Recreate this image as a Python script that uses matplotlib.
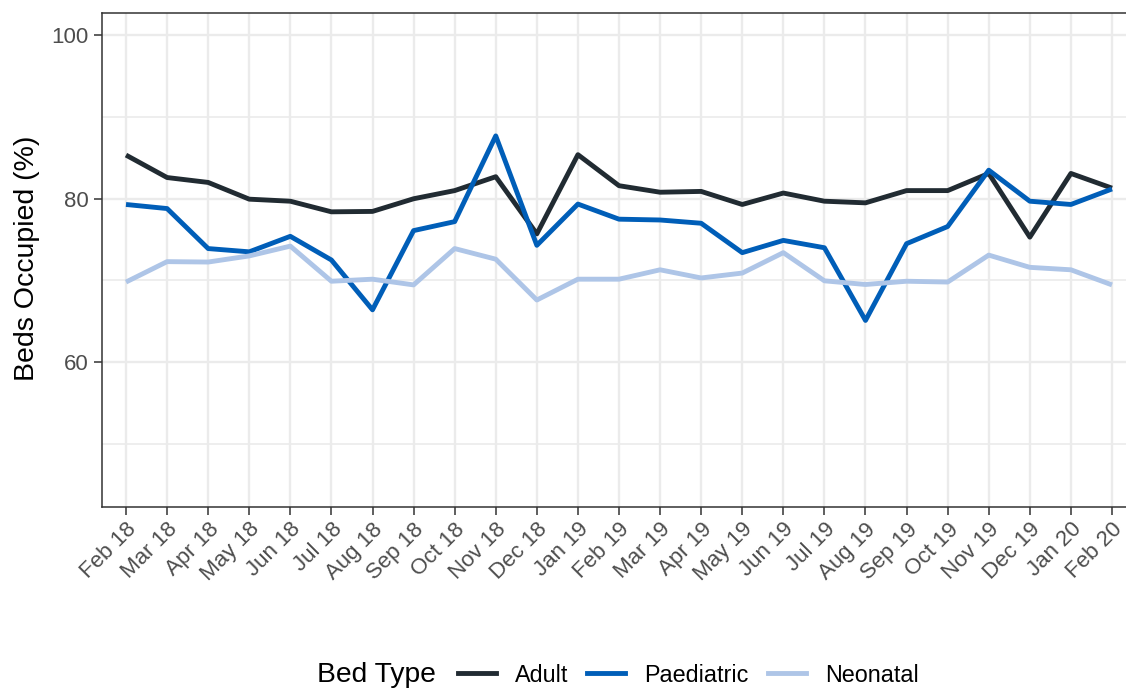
import matplotlib
matplotlib.use("Agg")
import matplotlib.pyplot as plt
from matplotlib.lines import Line2D
import numpy as np

months = ["Feb 18", "Mar 18", "Apr 18", "May 18", "Jun 18", "Jul 18", "Aug 18",
          "Sep 18", "Oct 18", "Nov 18", "Dec 18", "Jan 19", "Feb 19", "Mar 19",
          "Apr 19", "May 19", "Jun 19", "Jul 19", "Aug 19", "Sep 19", "Oct 19",
          "Nov 19", "Dec 19", "Jan 20", "Feb 20"]

adult = [85.35, 82.6, 82.0, 79.95, 79.7, 78.4, 78.45, 80.0, 81.0, 82.7, 75.7,
         85.4, 81.6, 80.8, 80.9, 79.3, 80.7, 79.7, 79.5, 81.0, 81.0, 83.1,
         75.3, 83.1, 81.3]
paediatric = [79.3, 78.8, 73.9, 73.5, 75.4, 72.5, 66.4, 76.1, 77.2, 87.7, 74.3,
              79.35, 77.5, 77.4, 77.0, 73.4, 74.9, 74.0, 65.1, 74.5, 76.6, 83.5,
              79.7, 79.3, 81.2]
neonatal = [69.8, 72.3, 72.25, 73.0, 74.2, 69.9, 70.15, 69.45, 73.9, 72.6, 67.6,
            70.15, 70.15, 71.3, 70.3, 70.9, 73.4, 69.95, 69.5, 69.9, 69.8, 73.1,
            71.6, 71.3, 69.45]

series_names = ["Adult", "Paediatric", "Neonatal"]
series_colors = ["#212b32", "#005eb8", "#aec5e7"]
y_major = [60, 80, 100]
y_minor = [50, 70, 90]

plt.rcParams['font.family'] = ['Liberation Sans', 'DejaVu Sans']

W, H = 1126, 689
fig = plt.figure(figsize=(W / 100, H / 100), dpi=100)
left, right, top, bottom = 102, 1127, 13, 507
ax = fig.add_axes([left / W, 1 - bottom / H, (right - left) / W, (bottom - top) / H])

x = np.arange(len(months))
for vals, name, col in zip([adult, paediatric, neonatal], series_names, series_colors):
    ax.plot(x, vals, color=col, lw=3.5, solid_joinstyle='round', solid_capstyle='butt',
            label=name, zorder=3)

ax.set_ylim(42.25, 102.75)
ax.set_xlim(-24 / 41.08, 24 + (right - 1112) / 41.08)
ax.set_xticks(x)
ax.set_xticklabels(months, rotation=45, ha='right', va='top', rotation_mode='anchor')
ax.set_yticks(y_major)
ax.set_yticks(y_minor, minor=True)

ax.grid(True, which='major', color='#ebebeb', lw=1.7, zorder=0)
ax.grid(True, which='minor', axis='y', color='#ebebeb', lw=1.2, zorder=0)
ax.set_axisbelow(True)

for s in ['left', 'top', 'bottom']:
    ax.spines[s].set_color('#333333')
    ax.spines[s].set_linewidth(1.1)
ax.spines['right'].set_visible(False)

ax.tick_params(axis='both', which='major', color='#333333', width=1.1, length=5.5,
               labelcolor='#4d4d4d', labelsize=16.0)
ax.tick_params(axis='x', pad=3)
ax.tick_params(axis='y', pad=4)
ax.tick_params(axis='y', which='minor', length=0)

fig.text(27 / W, 1 - 258 / H, "Beds Occupied (%)", rotation=90, ha='center', va='center',
         fontsize=20.5, color='black')

fig.text(317 / W, 1 - 675 / H, "Bed Type", ha='left', va='center', fontsize=20.3, color='black')
handles = [Line2D([0], [0], color=c, lw=3.5) for c in series_colors]
fs = 16.8
px = fs * 100 / 72
leg = fig.legend(handles, series_names, loc='center left',
                 bbox_to_anchor=(458 / W, 1 - 675 / H), ncol=3, frameon=False,
                 fontsize=fs, handlelength=38 / px, handletextpad=19 / px,
                 columnspacing=19 / px, borderpad=0, borderaxespad=0)

fig.savefig("out.png", dpi=100)
